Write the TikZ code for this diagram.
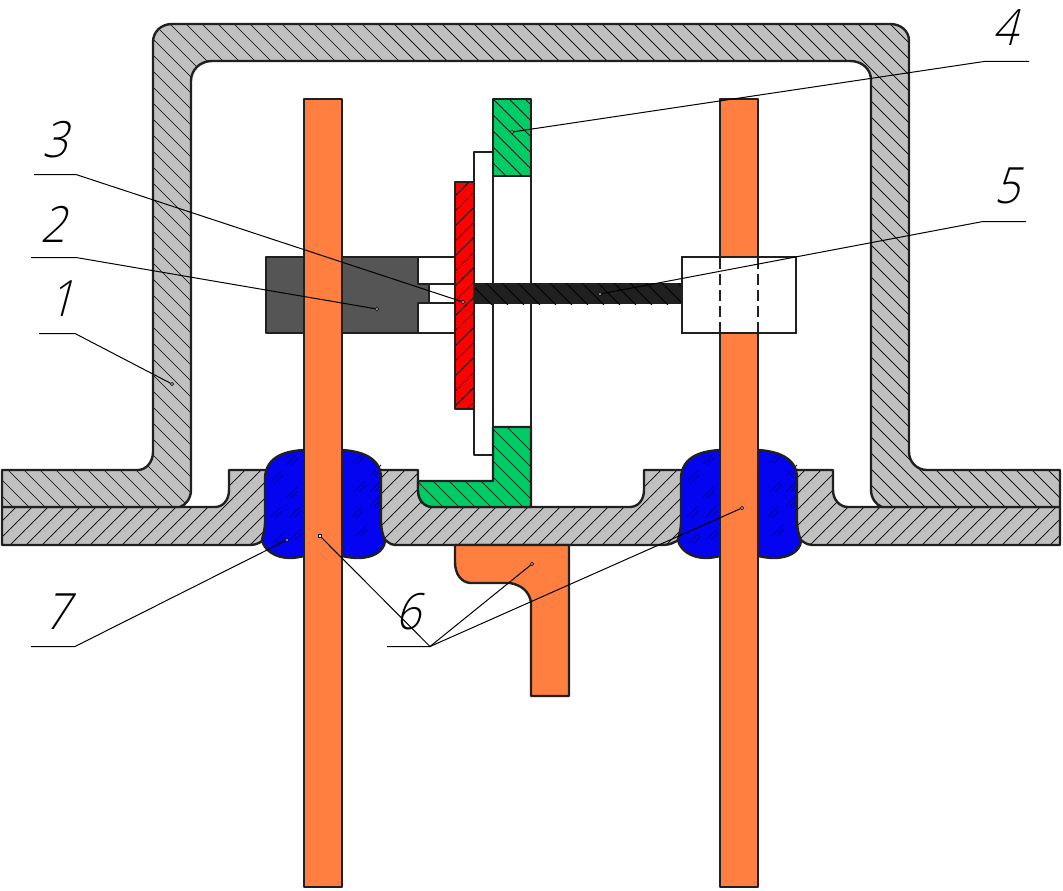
\documentclass[tikz,border=0pt]{standalone}
\usepackage{fontspec}
\newfontfamily\digitfont[FakeSlant=0.3]{Open Sans Light}
\definecolor{steelgrey}{HTML}{C0C0C0}
\definecolor{inkc}{HTML}{202020}
\definecolor{copperc}{HTML}{FF7F40}
\definecolor{greenc}{HTML}{00CC66}
\definecolor{bluec}{HTML}{0404F0}
\definecolor{bluedk}{HTML}{00009C}
\definecolor{darkblock}{HTML}{555555}
\tikzset{
  x=1pt,y=-1pt,
  outline/.style={draw=inkc,line width=2.4pt,line join=round},
  hatchline/.style={draw=black,line width=0.7pt},
  leader/.style={draw=black,line width=1pt},
  dotend/.style={circle,draw=black,fill=white,line width=0.7pt,inner sep=0pt,minimum size=3.2pt},
  numeral/.style={inner sep=0pt,xscale=0.88,font=\digitfont\fontsize{50}{50}\selectfont},
  bluemark/.style={draw=bluedk,line width=0.9pt},
}
\newcommand\housingpath{(2,470) -- (138,470) .. controls (146,470) and (153,462) .. (153,452) -- (153,42) .. controls (153,32) and (161,24) .. (172,24) -- (890,24) .. controls (901,24) and (909,31) .. (909,41) -- (909,452) .. controls (909,462) and (917,470) .. (927,470) -- (1060,470) -- (1060,507) -- (882,507) .. controls (876,505) and (871,498) .. (871,490) -- (871,80) .. controls (871,69) and (862,61) .. (850,61) -- (212,61) .. controls (200,61) and (191,70) .. (191,81) -- (191,490) .. controls (191,498) and (186,505) .. (180,507) -- (2,507) -- cycle}
\newcommand\basepath{(2,507) -- (215,507) .. controls (223,507) and (229,500) .. (229,490) -- (229,470) -- (418,470) -- (418,490) .. controls (418,500) and (424,507) .. (433,507) -- (630,507) .. controls (638,507) and (644,500) .. (644,490) -- (644,470) -- (833,470) -- (833,490) .. controls (833,500) and (840,507) .. (848,507) -- (1060,507) -- (1060,545) -- (812,545) .. controls (806,545) and (800,540) .. (790,530) -- (690,530) .. controls (675,545) and (668,545) .. (660,545) -- (395,545) .. controls (390,545) and (385,540) .. (375,530) -- (275,530) .. controls (262,543) and (256,545) .. (250,545) -- (2,545) -- cycle}
\newcommand\greenpatha{(493,99) rectangle (531,176)}
\newcommand\greenpathb{(418,481) -- (493,481) -- (493,427) -- (531,427) -- (531,507) -- (433,507) .. controls (424,507) and (418,500) .. (418,490) -- cycle}
\newcommand\sealleft{(304,450) .. controls (288,451) and (266,455) .. (265,478) -- (265,522) .. controls (265,530) and (263,535) .. (262,540) .. controls (264,550) and (275,558) .. (290,558) .. controls (295,558) and (300,557) .. (304,556) -- (342,556) .. controls (347,557) and (352,558) .. (358,558) .. controls (372,558) and (384,552) .. (385,541) .. controls (383,535) and (381,530) .. (381,520) -- (381,478) .. controls (381,456) and (358,451) .. (342,450) -- cycle}
\newcommand\sealright{(720,450) .. controls (704,451) and (682,455) .. (681,478) -- (681,522) .. controls (681,530) and (679,535) .. (678,540) .. controls (680,550) and (691,558) .. (706,558) .. controls (711,558) and (716,557) .. (720,556) -- (758,556) .. controls (763,557) and (768,558) .. (774,558) .. controls (788,558) and (800,552) .. (801,541) .. controls (799,535) and (797,530) .. (797,520) -- (797,478) .. controls (797,456) and (774,451) .. (758,450) -- cycle}
\newcommand\contactpath{(455,545) -- (569,545) -- (569,696) -- (531,696) -- (531,602) .. controls (529,591) and (521,585) .. (510,583) -- (470,583) .. controls (461,582) and (455,574) .. (455,562) -- cycle}
\newcommand\bluepair[2]{\draw[bluemark] (#1-5,#2+5) -- (#1+5,#2-5) (#1-1,#2+6) -- (#1+6,#2-1);}
\newcommand\slashset[1]{%
  \foreach \px/\py in {292/459,277/476,292/492,276/512,295/512,278/538,296/534,358/458,376/470,360/486,376/486,357/512,376/500,362/530}{%
    \bluepair{\px+#1}{\py}}}
\begin{document}
\begin{tikzpicture}
\useasboundingbox (0,0) rectangle (1063,891);
% base plate
\fill[steelgrey] \basepath;
\begin{scope}
  \clip \basepath;
  \foreach \k in {0,...,72}{\draw[hatchline] ({459+16*\k-440},440) -- ({459+16*\k-550},550);}
\end{scope}
\draw[outline] \basepath;
% housing
\fill[steelgrey] \housingpath;
\begin{scope}
  \clip \housingpath;
  \foreach \k in {-42,...,60}{\draw[hatchline] ({146+16*\k},0) -- ({146+16*\k+600},600);}
\end{scope}
\draw[outline] \housingpath;
% bracket (white)
\draw[outline,fill=white] (474,152) rectangle (493,455);
\draw[outline,fill=white] (493,176) rectangle (531,427);
% green
\fill[greenc] \greenpatha;
\fill[greenc] \greenpathb;
\begin{scope}
  \clip \greenpatha;
  \foreach \k in {-6,...,8}{\draw[hatchline] ({388+16*\k},90) -- ({388+16*\k+100},190);}
\end{scope}
\begin{scope}
  \clip \greenpathb;
  \foreach \k in {-8,...,8}{\draw[hatchline] ({388-400+16*\k},420) -- ({388-400+16*\k+100+16*4},{520+16*4});}
  \foreach \k in {20,...,32}{\draw[hatchline] ({-12+16*\k},420) -- ({-12+16*\k+100},520);}
\end{scope}
\draw[outline] \greenpatha;
\draw[outline] \greenpathb;
% dark block with white recesses
\draw[outline,fill=white] (418,257) rectangle (455,284);
\draw[outline,fill=white] (418,303) rectangle (455,333);
\draw[outline,fill=white] (429,284) rectangle (455,303);
\draw[outline,fill=darkblock] (266,257) -- (418,257) -- (418,284) -- (429,284) -- (429,303) -- (418,303) -- (418,333) -- (266,333) -- cycle;
% rod
\fill[inkc] (474,283) rectangle (682,304);
\begin{scope}
  \clip (474,283) rectangle (682,304);
  \foreach \k in {0,...,14}{\draw[draw=black,line width=1pt] ({470+16*\k},283) -- ++(22,22);}
\end{scope}
% red plate
\fill[red] (455,182) rectangle (474,409);
\begin{scope}
  \clip (455,182) rectangle (474,409);
  \foreach \k in {0,...,18}{\draw[hatchline] (450,{186+15*\k}) -- (480,{156+15*\k});}
\end{scope}
\draw[outline] (455,182) rectangle (474,409);
% seals
\fill[bluec] \sealleft;
\fill[bluec] \sealright;
\slashset{0}
\slashset{416}
\draw[outline] \sealleft;
\draw[outline] \sealright;
% terminals
\draw[outline,fill=copperc] (304,99) rectangle (342,887);
\draw[outline,fill=copperc] (720,99) rectangle (758,887);
\draw[outline,fill=copperc] \contactpath;
% right white block
\draw[draw=inkc,line width=2pt,fill=white] (682,257) rectangle (796,333);
\draw[draw=inkc,line width=1.2pt,dash pattern=on 11pt off 5pt] (720,258) -- (720,333);
\draw[draw=inkc,line width=1.2pt,dash pattern=on 11pt off 5pt] (758,258) -- (758,333);
% labels
\node[numeral,anchor=center] (n1) at (61,299) {1};
\node[numeral,anchor=center] (n2) at (53,224) {2};
\node[numeral,anchor=center] (n3) at (55,140) {3};
\node[numeral,anchor=center] (n4) at (1005,28) {4};
\node[numeral,anchor=center] (n5) at (1007,186) {5};
\node[numeral,anchor=center] (n6) at (408,612) {6};
\node[numeral,anchor=center] (n7) at (57,612) {7};
% leader ends
\coordinate (a1) at (39,333.5); \coordinate (k1) at (75,333.5); \node[dotend] (e1) at (172,384) {};
\coordinate (a2) at (31,257.5); \coordinate (k2) at (76,257.5); \node[dotend] (e2) at (377,309) {};
\coordinate (a3) at (34,174.5); \coordinate (k3) at (76,174.5); \node[dotend] (e3) at (463,302) {};
\coordinate (a4) at (1029,61.5); \coordinate (k4) at (984,61.5); \node[dotend] (e4) at (512,132) {};
\coordinate (a5) at (1026,221.5); \coordinate (k5) at (983,221.5); \node[dotend] (e5) at (600,294) {};
\coordinate (a6) at (387,646.5); \coordinate (k6) at (430,646.5);
\node[dotend,rectangle] (e6a) at (320,536) {};
\node[dotend] (e6b) at (532,564) {};
\node[dotend] (e6c) at (742,508) {};
\coordinate (a7) at (31,646.5); \coordinate (k7) at (75,646.5); \node[dotend] (e7) at (287,540) {};
\draw[leader] (a1) -- (k1) -- (e1);
\draw[leader] (a2) -- (k2) -- (e2);
\draw[leader] (a3) -- (k3) -- (e3);
\draw[leader] (a4) -- (k4) -- (e4);
\draw[leader] (a5) -- (k5) -- (e5);
\draw[leader] (a6) -- (k6) -- (e6a);
\draw[leader] (k6) -- (e6b);
\draw[leader] (k6) -- (e6c);
\draw[leader] (a7) -- (k7) -- (e7);
\end{tikzpicture}
\end{document}
